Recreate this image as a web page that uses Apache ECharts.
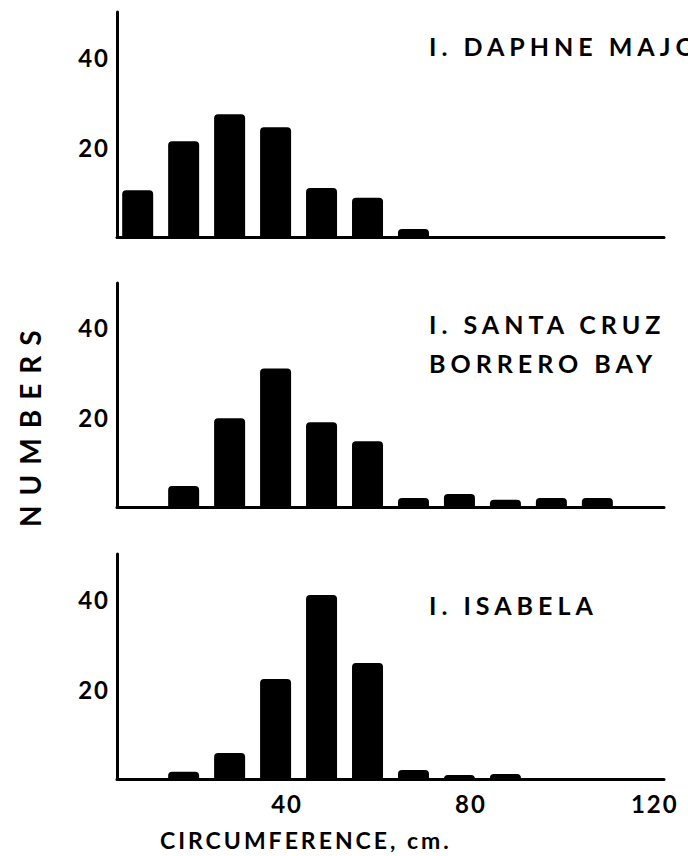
<!DOCTYPE html>
<html><head><meta charset="utf-8">
<script src="https://cdn.jsdelivr.net/npm/echarts@6/dist/echarts.min.js"></script>
<style>
html,body{margin:0;padding:0;background:#fff;}
#c{width:688px;height:856px;}
text[style*="spTitle"]{letter-spacing:5px;}
text[style*="spTick"]{letter-spacing:2px;}
text[style*="spXName"]{letter-spacing:3px;}
text[style*="spYName"]{letter-spacing:10px;}
</style></head><body><div id="c"></div>
<script>
// circumference class centres (cm)
const binCenters = [7.5, 17.5, 27.5, 37.5, 47.5, 57.5, 67.5, 77.5, 87.5, 97.5, 107.5];
// numbers per class
const daphneMajor = [10.4, 21.3, 27.3, 24.4, 10.9, 8.7, 1.8, 0, 0, 0, 0];
const santaCruz   = [0, 4.7, 19.8, 30.9, 18.9, 14.7, 2.0, 2.9, 1.6, 2.0, 2.0];
const isabela     = [0, 1.6, 5.8, 22.2, 40.9, 25.8, 2.0, 0.9, 1.1, 0, 0];
const xTickLabels = [40, 80, 120];
const yTickLabels = [20, 40];
const panelTitles = [["I. DAPHNE MAJOR"], ["I. SANTA CRUZ", "BORRERO BAY"], ["I. ISABELA"]];
const xAxisTitle = "CIRCUMFERENCE, cm.";
const yAxisTitle = "NUMBERS";

const seriesData = [daphneMajor, santaCruz, isabela];
const gridTops = [12, 283, 554];
const gridHeights = [225, 224, 225];
const FONT = 'Lato';

const chart = echarts.init(document.getElementById('c'), null, {renderer: 'svg'});

const grids = [], xAxes = [], yAxes = [], series = [];
for (let i = 0; i < 3; i++) {
  grids.push({left: 117, width: 547, top: gridTops[i], height: gridHeights[i], containLabel: false});
  xAxes.push({
    type: 'value', gridIndex: i, min: 3, max: 122,
    axisLine: {show: true, lineStyle: {color: '#000', width: 3}},
    axisTick: {show: false}, splitLine: {show: false},
    axisLabel: {
      show: i === 2, customValues: xTickLabels, margin: 12,
      color: '#000', fontSize: 24, fontWeight: 'bold', fontFamily: FONT + ', spTick'
    }
  });
  yAxes.push({
    type: 'value', gridIndex: i, min: 0, max: 50,
    axisLine: {show: true, lineStyle: {color: '#000', width: 3}},
    axisTick: {show: false}, splitLine: {show: false},
    axisLabel: {
      customValues: yTickLabels, margin: 7, padding: [i === 0 ? 4 : 11, 0, 0, 0],
      color: '#000', fontSize: 24, fontWeight: 'bold', fontFamily: FONT + ', spTick'
    }
  });
  series.push({
    type: 'bar', xAxisIndex: i, yAxisIndex: i, barWidth: 31,
    itemStyle: {color: '#000', borderRadius: [4, 4, 0, 0]},
    data: binCenters.map((x, k) => [x, seriesData[i][k]]).filter(d => d[1] > 0),
    animation: false, silent: true
  });
}

const titleY = [[46], [324, 363], [605]];
const graphics = [];
panelTitles.forEach((lines, i) => {
  lines.forEach((t, j) => {
    graphics.push({type: 'text', x: 429, y: titleY[i][j],
      style: {text: t, fill: '#000', fontSize: 25, fontWeight: 'bold', fontFamily: FONT + ', spTitle',
              textAlign: 'left', textVerticalAlign: 'middle'}});
  });
});
graphics.push({type: 'text', x: 160, y: 840,
  style: {text: xAxisTitle, fill: '#000', fontSize: 23, fontWeight: 'bold', fontFamily: FONT + ', spXName',
          textAlign: 'left', textVerticalAlign: 'middle'}});
graphics.push({type: 'text', x: 30, y: 527, rotation: Math.PI / 2,
  style: {text: yAxisTitle, fill: '#000', fontSize: 28, fontWeight: 'bold', fontFamily: FONT + ', spYName',
          textAlign: 'left', textVerticalAlign: 'middle'}});

chart.setOption({
  animation: false,
  backgroundColor: '#fff',
  grid: grids, xAxis: xAxes, yAxis: yAxes, series: series,
  graphic: graphics
});
</script></body></html>
